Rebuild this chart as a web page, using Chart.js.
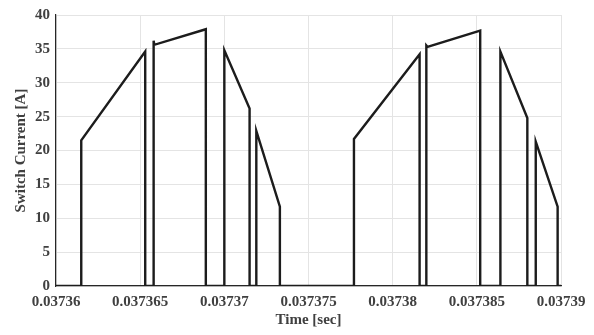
<!DOCTYPE html>
<html>
<head>
<meta charset="utf-8">
<script src="https://cdn.jsdelivr.net/npm/chart.js@4"></script>
<style>
  html, body { margin: 0; padding: 0; background: #fff; }
  #wrap { width: 594px; height: 335px; }
</style>
</head>
<body>
<div id="wrap"><canvas id="chart"></canvas></div>
<script>
// time [sec] and switch current [A]
const timeSec = [
  0.03736, 0.0373615, 0.0373615, 0.0373653, 0.0373653,
  0.0373658, 0.0373658, 0.03736584, 0.0373689, 0.0373689,
  0.0373700, 0.0373700, 0.0373715, 0.0373715,
  0.0373719, 0.0373719, 0.0373733, 0.0373733,
  0.0373777, 0.0373777, 0.0373816, 0.0373816,
  0.0373820, 0.0373820, 0.03738207, 0.0373852, 0.0373852,
  0.0373864, 0.0373864, 0.0373880, 0.0373880,
  0.0373885, 0.0373885, 0.0373898, 0.0373898, 0.03739
];
const switchCurrent = [
  0, 0, 21.5, 34.6, 0,
  0, 36.2, 35.6, 37.9, 0,
  0, 34.8, 26.2, 0,
  0, 22.9, 11.7, 0,
  0, 21.7, 34.2, 0,
  0, 35.5, 35.3, 37.7, 0,
  0, 34.6, 24.8, 0,
  0, 21.3, 11.7, 0, 0
];
const xTicks = [0.03736, 0.037365, 0.03737, 0.037375, 0.03738, 0.037385, 0.03739];
const yTicks = [0, 5, 10, 15, 20, 25, 30, 35, 40];

const font = { family: '"Liberation Serif", "Times New Roman", serif', size: 15, weight: 'bold' };
const textColor = '#404040';

new Chart(document.getElementById('chart'), {
  type: 'line',
  data: {
    datasets: [{
      data: timeSec.map((t, i) => ({ x: t, y: switchCurrent[i] })),
      borderColor: '#1c1c1c',
      borderWidth: 2.4,
      pointRadius: 0,
      tension: 0,
      fill: false
    }]
  },
  options: {
    responsive: true,
    maintainAspectRatio: false,
    animation: false,
    layout: { padding: { left: 0, right: 33, top: 12, bottom: 0 } },
    plugins: { legend: { display: false }, tooltip: { enabled: false } },
    scales: {
      x: {
        type: 'linear',
        min: 0.03736,
        max: 0.03739,
        afterBuildTicks: s => { s.ticks = xTicks.map(v => ({ value: v })); },
        afterFit: s => { s.height = 49; },
        ticks: {
          color: textColor, font, padding: 7, maxRotation: 0, autoSkip: false,
          callback: v => Number(v.toFixed(6)).toString()
        },
        grid: { color: '#e4e4e4', lineWidth: 1, drawTicks: false },
        border: { display: true, color: '#262626', width: 1.2 },
        title: { display: true, text: 'Time [sec]', color: textColor, font, padding: { top: 0, bottom: 6 } }
      },
      y: {
        min: 0,
        max: 40,
        afterBuildTicks: s => { s.ticks = yTicks.map(v => ({ value: v })); },
        afterFit: s => { s.width = 56; },
        ticks: { color: textColor, font, padding: 6 },
        grid: { color: '#e4e4e4', lineWidth: 1, drawTicks: false },
        border: { display: true, color: '#262626', width: 1.2 },
        title: { display: true, text: 'Switch Current [A]', color: textColor, font, padding: { top: 12, bottom: 0 } }
      }
    }
  }
});
</script>
</body>
</html>
